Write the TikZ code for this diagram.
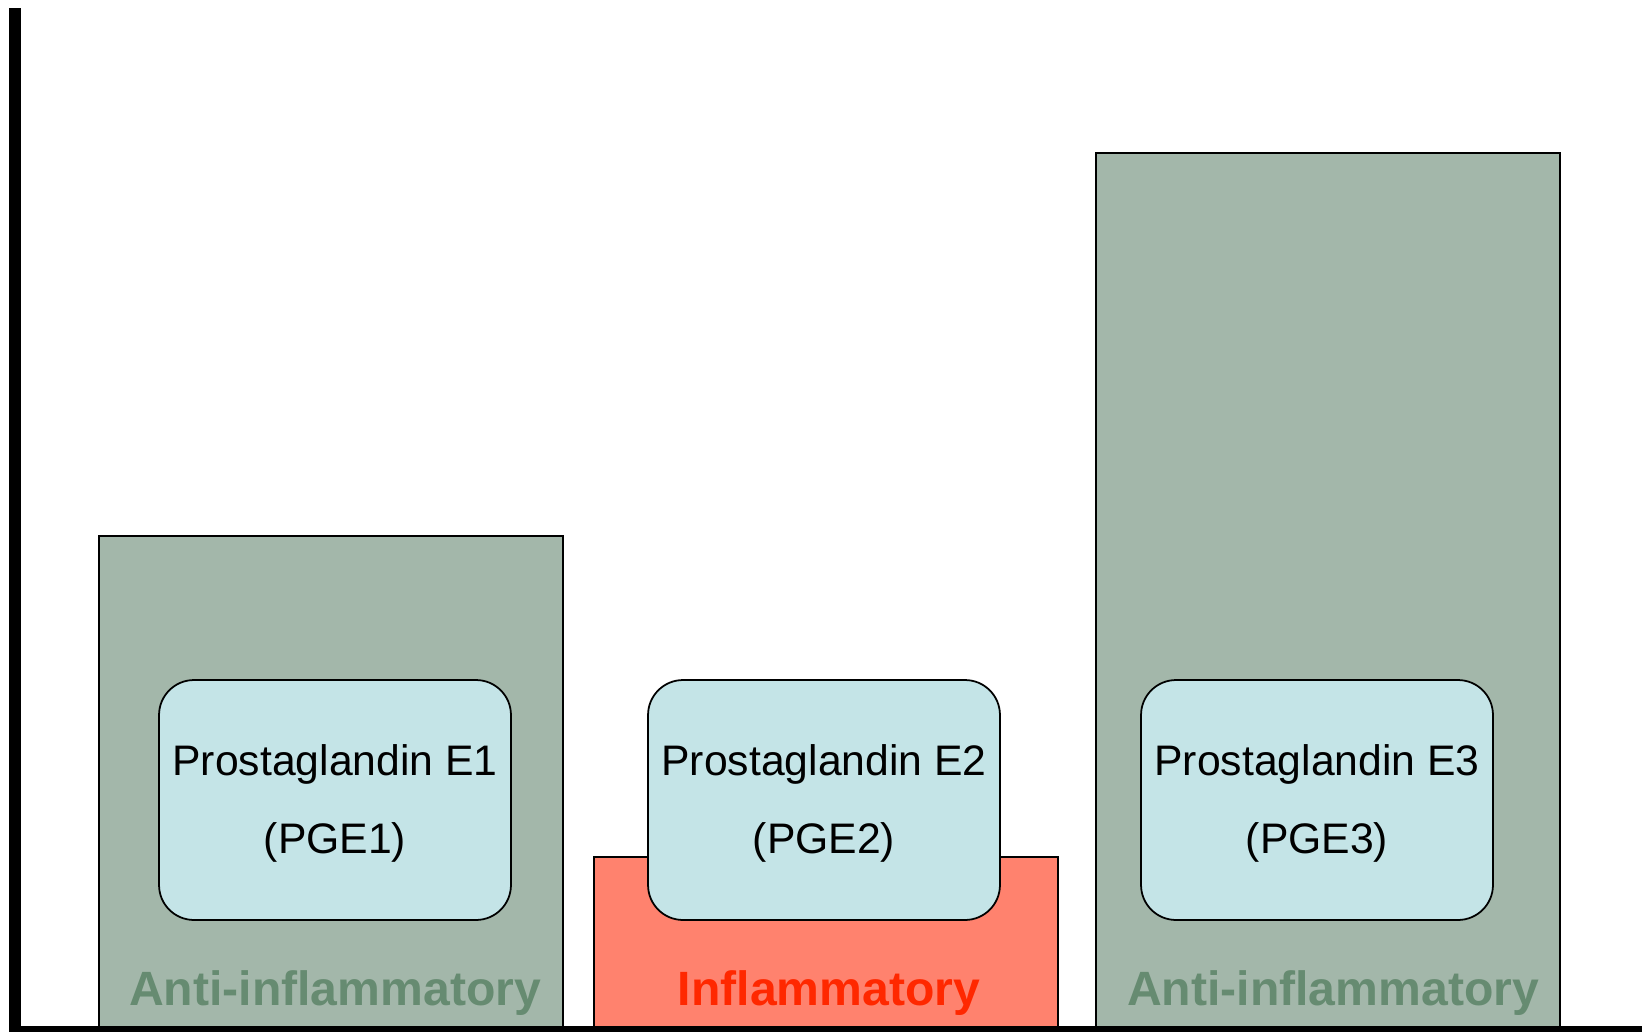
\documentclass[tikz,border=0pt]{standalone}
\usepackage{fontspec}
\setmainfont{Liberation Sans}
\usetikzlibrary{positioning}

\definecolor{antiFill}{HTML}{A3B7AA}
\definecolor{antiText}{HTML}{668B71}
\definecolor{inflFill}{HTML}{FF826E}
\definecolor{inflText}{HTML}{FF2800}
\definecolor{pgeFill}{HTML}{C4E4E7}

\tikzset{
  bar/.style={draw, rectangle, line width=0.8pt, anchor=north west, inner sep=0pt, outer sep=0pt, minimum width=9.28cm},
  pge/.style={draw, rectangle, rounded corners=0.7cm, line width=1pt, fill=pgeFill, minimum width=7.04cm, minimum height=4.8cm, align=center, text height=66pt, font=\fontsize{24.3pt}{44.4pt}\selectfont},
  effect/.style={anchor=base, font=\fontsize{27.4pt}{30pt}\selectfont\bfseries}
}

\begin{document}
\begin{tikzpicture}[x=0.02cm, y=-0.02cm]
    \useasboundingbox (0,0) rectangle (1642,1031);
    % bars
    \node[bar, fill=antiFill, minimum height=9.9cm] (bar1) at (99,536) {};
    \node[bar, fill=inflFill, minimum height=3.48cm] (bar2) at (594,857) {};
    \node[bar, fill=antiFill, minimum height=17.56cm] (bar3) at (1096,153) {};
    % prostaglandins
    \node[pge] (pge1) at (335,800) {Prostaglandin E1\\(PGE1)};
    \node[pge] (pge2) at (824,800) {Prostaglandin E2\\(PGE2)};
    \node[pge] (pge3) at (1317,800) {Prostaglandin E3\\(PGE3)};
    % effects
    \node[effect, text=antiText] (eff1) at (335,1005) {Anti-inflammatory};
    \node[effect, text=inflText] (eff2) at (829,1005) {Inflammatory};
    \node[effect, text=antiText] (eff3) at (1333,1005) {Anti-inflammatory};
    % axes
    \coordinate (ytop) at (15,8);
    \coordinate (origin) at (15,1032);
    \coordinate (xend) at (1642,1032);
    \draw[line width=6.83pt] (ytop) -- (origin) -- (xend);
\end{tikzpicture}
\end{document}
